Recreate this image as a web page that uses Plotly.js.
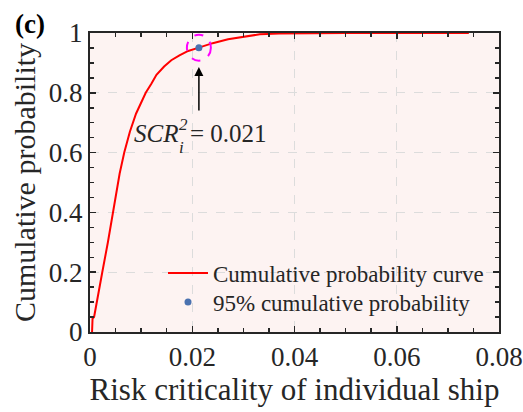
<!DOCTYPE html>
<html><head><meta charset="utf-8">
<script src="https://cdn.plot.ly/plotly-3.0.1.min.js"></script>
<style>html,body{margin:0;padding:0;background:#fff}#c{width:523px;height:412px}</style>
</head><body><div id="c"></div>
<script>
const riskX = [0.0004, 0.0005, 0.0008, 0.0015, 0.0024, 0.0035, 0.0049, 0.0058, 0.0067, 0.0078, 0.009, 0.01, 0.0109, 0.012, 0.013, 0.0145, 0.0159, 0.0175, 0.0192, 0.0213, 0.024, 0.027, 0.03, 0.0332, 0.037, 0.042, 0.05, 0.06, 0.0741];
const cumProb = [0.0, 0.045, 0.05, 0.12, 0.2, 0.3, 0.44, 0.53, 0.6, 0.67, 0.73, 0.77, 0.8, 0.83, 0.86, 0.888, 0.909, 0.925, 0.94, 0.951, 0.966, 0.979, 0.988, 0.9957, 0.998, 0.9995, 1.0, 1.0, 1.0];
const pointX = [0.0213];
const pointY = [0.951];
const xTicks = [0, 0.02, 0.04, 0.06, 0.08];
const xTickLabels = ['0', '0.02', '0.04', '0.06', '0.08'];
const yTicks = [0, 0.2, 0.4, 0.6, 0.8, 1];
const yTickLabels = ['0', '0.2', '0.4', '0.6', '0.8', '1'];

const serif = 'Liberation Serif, Times New Roman, serif';
const ink = '#262626';
const axisCommon = {
  showline: true, linecolor: ink, linewidth: 2, mirror: 'ticks',
  ticks: 'inside', ticklen: 6, tickwidth: 1.5, tickcolor: ink,
  showgrid: true, gridcolor: '#dcdcdc', griddash: 'dash', gridwidth: 1,
  zeroline: false, tickfont: {family: serif, size: 27, color: ink},
  tickmode: 'array', ticklabeloverflow: 'allow'
};
const traces = [
  {x: riskX, y: cumProb, type: 'scatter', mode: 'lines', name: 'Cumulative probability curve',
   line: {color: '#ff0000', width: 2}, legend: 'legend'},
  {x: pointX, y: pointY, type: 'scatter', mode: 'markers', name: '95% cumulative probability',
   marker: {color: '#4a72b0', size: 7, symbol: 'circle'}, legend: 'legend2'}
];
function px(xp){return (xp-90)/409;}
function py(yp){return (332-yp)/299;}
const legFont = {family: serif, size: 23, color: ink};
const layout = {
  width: 523, height: 412,
  margin: {l: 90, r: 24, t: 33, b: 80},
  paper_bgcolor: '#ffffff', plot_bgcolor: '#fdf3f2',
  font: {family: serif, color: ink},
  xaxis: Object.assign({}, axisCommon, {
    range: [0, 0.08], tickvals: xTicks, ticktext: xTickLabels,
    minor: {dtick: 0.005, ticks: 'inside', ticklen: 4, tickcolor: ink, showgrid: false},
    title: {text: 'Risk criticality of individual ship', font: {family: serif, size: 31, color: ink}, standoff: 6}
  }),
  yaxis: Object.assign({}, axisCommon, {
    range: [0, 1], tickvals: yTicks, ticktext: yTickLabels,
    minor: {dtick: 0.05, ticks: 'inside', ticklen: 4, tickcolor: ink, showgrid: false},
    title: {text: 'Cumulative probability', font: {family: serif, size: 30, color: ink}, standoff: 4}
  }),
  showlegend: true,
  legend: {x: px(163), y: py(273), xanchor: 'left', yanchor: 'middle', bgcolor: 'rgba(0,0,0,0)',
    font: legFont, itemwidth: 40},
  legend2: {x: px(163), y: py(302), xanchor: 'left', yanchor: 'middle', bgcolor: 'rgba(0,0,0,0)',
    font: legFont, itemwidth: 40},
  shapes: [
    {type: 'circle', xref: 'x', yref: 'y', xsizemode: 'pixel', ysizemode: 'pixel',
     xanchor: pointX[0], yanchor: pointY[0], x0: -12, x1: 12, y0: -13, y1: 13,
     line: {color: '#ff00ff', width: 2, dash: 'dash'}}
  ],
  annotations: [
    {x: pointX[0], y: 0.886, xref: 'x', yref: 'y', text: '', showarrow: true,
     ax: 0, ay: 45, arrowhead: 2, arrowsize: 1.2, arrowwidth: 1.5, arrowcolor: '#000'},
    {x: px(156), y: py(133), xref: 'paper', yref: 'paper', xanchor: 'center', yanchor: 'middle',
     text: '<i>SCR</i>', showarrow: false, font: {family: serif, size: 25, color: ink}},
    {x: px(183.5), y: py(124), xref: 'paper', yref: 'paper', xanchor: 'center', yanchor: 'middle',
     text: '<i>2</i>', showarrow: false, font: {family: serif, size: 17, color: ink}},
    {x: px(181), y: py(147), xref: 'paper', yref: 'paper', xanchor: 'center', yanchor: 'middle',
     text: '<i>i</i>', showarrow: false, font: {family: serif, size: 17, color: ink}},
    {x: px(228), y: py(133), xref: 'paper', yref: 'paper', xanchor: 'center', yanchor: 'middle',
     text: '= 0.021', showarrow: false, font: {family: serif, size: 25, color: ink}},
    {x: px(30), y: py(24), xref: 'paper', yref: 'paper', xanchor: 'center', yanchor: 'middle',
     text: '<b>(c)</b>', showarrow: false, font: {family: serif, size: 27, color: '#000'}}
  ]
};
Plotly.newPlot('c', traces, layout, {displayModeBar: false, staticPlot: true});
</script></body></html>
